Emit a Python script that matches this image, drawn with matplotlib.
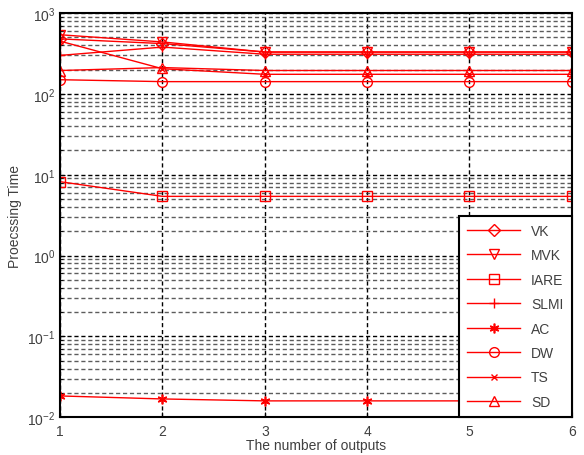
import matplotlib
matplotlib.use("Agg")
import matplotlib.pyplot as plt
from matplotlib.ticker import LogLocator, NullFormatter

plt.rcParams['font.family'] = ['Liberation Sans', 'DejaVu Sans']

x = [1, 2, 3, 4, 5, 6]
VK = [480, 420, 330, 330, 330, 330]
MVK = [540, 440, 330, 330, 330, 330]
IARE = [8.2, 5.4, 5.4, 5.4, 5.4, 5.4]
SLMI = [300, 380, 310, 310, 310, 310]
AC = [0.0183, 0.0168, 0.0159, 0.0159, 0.0159, 0.016]
DW = [150, 142, 142, 142, 142, 142]
TS = [450, 205, 175, 175, 175, 175]
SD = [195, 212, 195, 195, 195, 195]

series = [("VK", VK, 'D'), ("MVK", MVK, 'v'), ("IARE", IARE, 's'),
          ("SLMI", SLMI, '+'), ("AC", AC, (6, 2, 0)), ("DW", DW, 'o'),
          ("TS", TS, 'x'), ("SD", SD, '^')]

fig = plt.figure(figsize=(5.84, 4.56), dpi=100)
ax = fig.add_axes([0.103, 0.083, 0.876, 0.886])

for name, vals, m in series:
    ms = 6 if m == 'D' else 7
    if m == 'x':
        ms = 5
    ax.plot(x, vals, color='red', marker=m, markersize=ms, linewidth=1.0,
            label=name, markerfacecolor='none', markeredgewidth=1.2 if m == (6, 2, 0) else 1.0)

ax.set_yscale('log')
ax.set_ylim(1e-2, 1e3)
ax.set_xlim(1, 6)
ax.set_xticks(x)
ax.yaxis.set_major_locator(LogLocator(base=10, numticks=10))
ax.yaxis.set_minor_locator(LogLocator(base=10, subs=range(2, 10), numticks=20))
ax.yaxis.set_minor_formatter(NullFormatter())
ax.grid(True, which='major', axis='both', linestyle=(0, (3, 2)), color='black', linewidth=1.0)
ax.grid(True, which='minor', axis='y', linestyle=(0, (3, 2)), color='#333333', linewidth=1.0, alpha=0.8)
ax.tick_params(which='both', direction='in', labelsize=10, colors='black', labelcolor='#404040')
ax.tick_params(axis='x', pad=5)
for s in ax.spines.values():
    s.set_linewidth(1.5)

ax.set_ylabel("Proecssing Time", fontsize=10, color='#404040')
ax.set_xlabel("The number of outputs", fontsize=10, color='#404040', labelpad=0)

leg = ax.legend(loc='lower right', fontsize=10, handlelength=3.8, fancybox=False,
                framealpha=1, edgecolor='black', borderaxespad=0, labelspacing=0.75,
                borderpad=0.6)
leg.get_frame().set_linewidth(1.5)
for t in leg.get_texts():
    t.set_color('#404040')

fig.savefig("out.png", dpi=100)
